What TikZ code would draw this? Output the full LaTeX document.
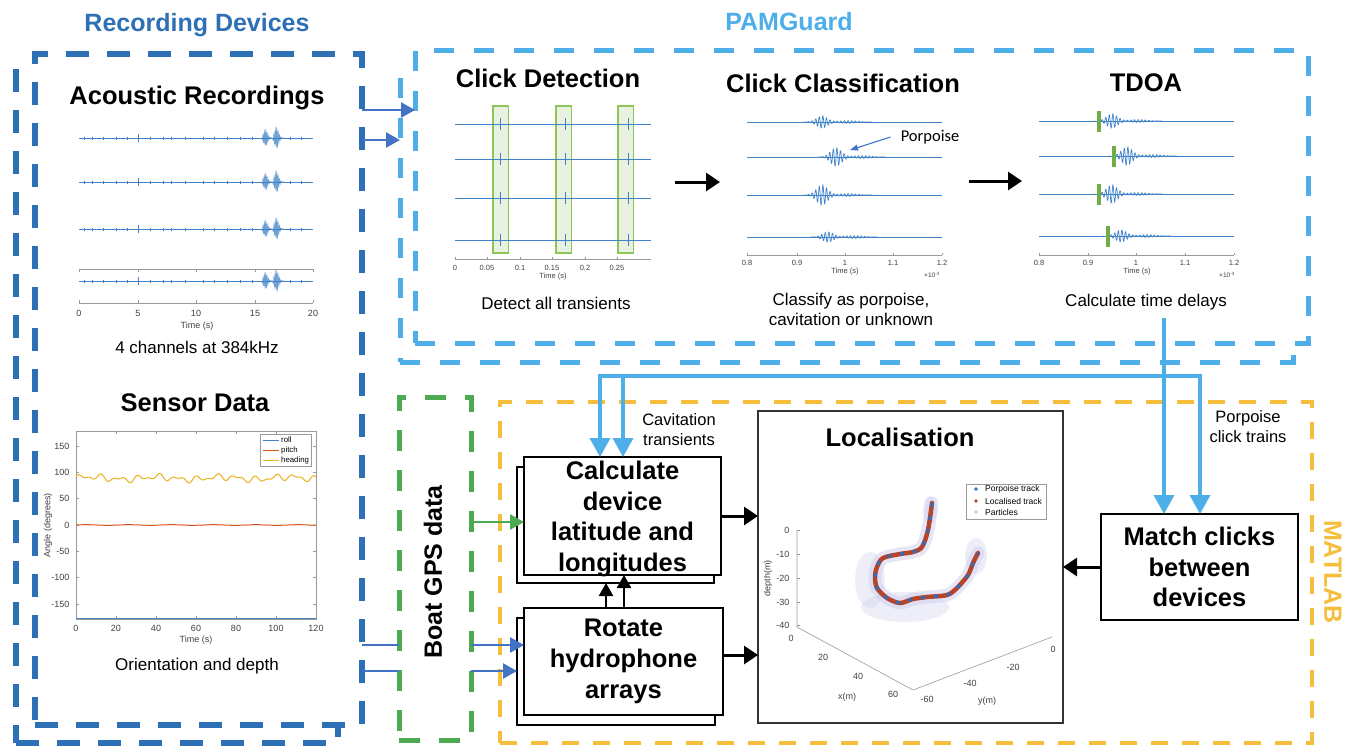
\documentclass[tikz,border=0pt]{standalone}
\usepackage{fontspec}
\setmainfont{Liberation Sans}
\newfontfamily\calibrifont{Carlito}
\usetikzlibrary{arrows.meta, positioning}

\definecolor{recblue}{HTML}{2E70B6}
\definecolor{pamblue}{HTML}{4DAEE8}
\definecolor{linkblue}{HTML}{4472C4}
\definecolor{gpsgreen}{HTML}{4EAA52}
\definecolor{labyellow}{HTML}{F6BE3C}
\definecolor{mblue}{HTML}{3F82C8}
\definecolor{morange}{HTML}{D95319}
\definecolor{myellow}{HTML}{EDB120}
\definecolor{axisgray}{HTML}{9A9A9A}
\definecolor{boxgreen}{HTML}{8DC556}
\definecolor{boxfill}{HTML}{E9F2E0}
\definecolor{bargreen}{HTML}{70AD47}
\definecolor{trackred}{HTML}{B4452A}
\definecolor{trackblue}{HTML}{2F6DB9}
\definecolor{cloud}{HTML}{C9C9EE}

\newcommand{\titlefont}{\fontsize{25.5}{30.7}\selectfont\bfseries}
\newcommand{\notefont}{\fontsize{16.5}{20}\selectfont}
\newcommand{\axfont}{\fontsize{9}{10}\selectfont}
\newcommand{\smallaxfont}{\fontsize{7.5}{9}\selectfont}

% one click on a channel: centre, baseline, amplitude
\newcommand{\clickwave}[3]{%
  \draw[trace] plot[domain=#1-18:#1+50, samples=260]
    (\x, {#2 - (#3*exp(-(\x-(#1))*(\x-(#1))/60) + 1.4*exp(-(\x-(#1)-26)*(\x-(#1)-26)/150))*sin(100*(\x-(#1)))});
}
% burst on a long recording: start, baseline, amplitude
\newcommand{\recburst}[3]{%
  \draw[trace, opacity=.75] plot[domain=#1-2:#1+9, samples=90]
    (\x, {#2 - #3*exp(-(\x-(#1)-1.5)*(\x-(#1)-1.5)/9)*sin(260*(\x-(#1)))});
}

\begin{document}
\begin{tikzpicture}[x=1pt, y=-1pt, >={Triangle[length=14pt, width=18pt]},
  frame/.style={inner sep=0pt, outer sep=0pt, fill=white},
  recdash/.style={draw=recblue, line width=6pt, dash pattern=on 23pt off 18pt},
  pamdash/.style={draw=pamblue, line width=5pt, dash pattern=on 20pt off 20pt},
  gpsdash/.style={draw=gpsgreen, line width=5pt, dash pattern=on 21pt off 19pt},
  labdash/.style={draw=labyellow, line width=4.5pt, dash pattern=on 17pt off 14pt},
  heading/.style={font=\titlefont, inner sep=0pt},
  note/.style={font=\notefont, align=center, inner sep=0pt},
  group/.style={font=\fontsize{25}{30}\selectfont\bfseries, inner sep=0pt},
  process/.style={draw, line width=1.6pt, fill=white, align=center, font=\titlefont, inner sep=0pt, outer sep=0pt},
  trace/.style={mblue, line width=0.7pt},
  axline/.style={axisgray, line width=0.6pt},
  flow/.style={->, line width=3pt},
  feed/.style={-{Triangle[length=14pt, width=15pt]}, linkblue, line width=2.5pt},
  pamflow/.style={-{Triangle[length=19pt, width=20pt]}, pamblue, line width=3.5pt, line cap=rect},
]
  \fill[white] (0,0) rectangle (1349,745);
  \useasboundingbox (0,0) rectangle (1349,745);

  % group frames
  \node[recdash, frame, minimum width=322pt, minimum height=671pt] (recback) at (177,407.5) {};
  \node[recdash, frame, minimum width=327pt, minimum height=671pt] (rec) at (198.5,389.5) {};
  \node[pamdash, frame, minimum width=893pt, minimum height=289pt] (pamback) at (846.5,217.5) {};
  \node[pamdash, frame, minimum width=893pt, minimum height=293pt] (pam) at (861.5,196.5) {};
  \node[gpsdash, frame, minimum width=72pt, minimum height=343pt] (gps) at (435,568.5) {};
  \node[labdash, frame, fill=none, minimum width=812pt, minimum height=341pt] (lab) at (906,572.5) {};

  \node[group, text=recblue] (reclabel) at (197,25) {Recording Devices};
  \node[group, text=pamblue] (pamlabel) at (789,22) {PAMGuard};
  \node[group, text=labyellow, rotate=-90] (lablabel) at (1333,572) {MATLAB};
  \node[group, rotate=90] (gpslabel) at (433,572) {Boat GPS data};

  % acoustic recordings
  \node[heading] (acoustitle) at (197,98) {Acoustic Recordings};
  \foreach \yy in {138,182,229,281} {
    \draw[trace] (79,\yy) -- (313,\yy);
    \foreach \xx in {84,92,103,116,127,150,163,171,185,203,214,227,240,252,290,301}
      \draw[trace, line width=0.5pt] (\xx,\yy-1.5) -- (\xx,\yy+1.5);
    \draw[trace, line width=0.5pt] (138,\yy-4) -- (138,\yy+4);
    \recburst{264}{\yy}{7}
    \recburst{275}{\yy}{9}
  }
  \draw[axline] (79,269) -- (313,269);
  \draw[axline] (79,303) -- (313,303);
  \foreach \xx/\lab in {79/0,138/5,196/10,255/15,313/20} {
    \draw[axline] (\xx,269) -- (\xx,271.5);
    \draw[axline] (\xx,303) -- (\xx,300);
    \node[font=\axfont, text=black!75] (acx\lab) at (\xx,313) {\lab};
  }
  \node[font=\axfont, text=black!75] (acxlabel) at (197,326) {Time (s)};
  \node[note, font=\fontsize{17}{20}\selectfont] (acouscap) at (197,347) {4 channels at 384kHz};

  % sensor data
  \node[heading] (senstitle) at (195,403) {Sensor Data};
  \draw[axline] (76,431) rectangle (316,619);
  \foreach \v in {-150,-100,...,150} {
    \draw[axline] (76,{525-0.526*(\v)}) -- (79,{525-0.526*(\v)});
    \draw[axline] (316,{525-0.526*(\v)}) -- (313,{525-0.526*(\v)});
    \node[font=\axfont, text=black!75, anchor=east] (sy\v) at (73,{525-0.526*(\v)}) {\v};
  }
  \foreach \t in {0,20,...,120} {
    \draw[axline] ({76+2*\t},619) -- ({76+2*\t},616);
    \draw[axline] ({76+2*\t},431) -- ({76+2*\t},434);
    \node[font=\axfont, text=black!75] (sx\t) at ({76+2*\t},628) {\t};
  }
  \node[font=\axfont, text=black!75] (sxlabel) at (196,640) {Time (s)};
  \node[font=\axfont, text=black!75, rotate=90] (sylabel) at (48,525) {Angle (degrees)};
  \draw[myellow, line width=1pt] plot[domain=0:120, samples=241]
    ({76+2*\x}, {525-0.526*(89+4*sin(\x*37)+3*sin(\x*61+40)+2.5*sin(\x*11+10))});
  \draw[morange, line width=1pt] plot[domain=0:120, samples=121]
    ({76+2*\x}, {525-0.526*(0.6*sin(\x*17))});
  \draw[mblue, line width=1pt] (76,618.5) -- (316,618.5);
  \node[draw=axisgray, fill=white, line width=0.6pt, minimum width=51pt, minimum height=32pt, inner sep=0pt] (senslegend) at (285.5,450) {};
  \foreach \yy/\col/\lab in {440/mblue/roll, 450/morange/pitch, 460/myellow/heading} {
    \draw[\col, line width=1pt] (263,\yy) -- (279,\yy);
    \node[font=\fontsize{7.8}{9}\selectfont, anchor=west, inner sep=0pt] (leg\lab) at (281,\yy) {\lab};
  }
  \node[note, font=\fontsize{17}{20}\selectfont] (senscap) at (197,666) {Orientation and depth};

  % click detection
  \node[heading] (dettitle) at (548,78) {Click Detection};
  \foreach \bx in {493,556,618}
    \draw[draw=boxgreen, fill=boxfill, line width=1.8pt] (\bx,106) rectangle +(15.5,147);
  \foreach \yy in {124,159,198,240} {
    \draw[trace] (455,\yy) -- (651,\yy);
    \foreach \xx in {500,565,628}
      \draw[trace] (\xx,\yy-6) -- (\xx,\yy+6);
  }
  \draw[axline] (455,259) -- (651,259);
  \foreach \xx/\lab in {455/0,487/0.05,520/0.1,552/0.15,585/0.2,617/0.25} {
    \draw[axline] (\xx,259) -- (\xx,256.5);
    \node[font=\smallaxfont, text=black!75] (dx\lab) at (\xx,268) {\lab};
  }
  \node[font=\smallaxfont, text=black!75] (dxlabel) at (553,277) {Time (s)};
  \node[note, font=\fontsize{17}{20}\selectfont] (detcap) at (556,303) {Detect all transients};

  % click classification
  \node[heading] (clstitle) at (843,83) {Click Classification};
  \foreach \yy/\c/\a in {122/822/6, 157/836/9, 195/822/10, 237/828/5} {
    \draw[trace] (747,\yy) -- (942,\yy);
    \clickwave{\c}{\yy}{\a}
  }
  \draw[axline] (747,255) -- (942,255);
  \foreach \xx/\lab in {747/0.8,797/0.9,845/1,893/1.1,942/1.2} {
    \draw[axline] (\xx,255) -- (\xx,252.5);
    \node[font=\smallaxfont, text=black!75] (cx\lab) at (\xx,263) {\lab};
  }
  \node[font=\smallaxfont, text=black!75] (cxlabel) at (845,272) {Time (s)};
  \node[font=\fontsize{6.5}{8}\selectfont, text=black!75] (cxscale) at (932,275) {×10\textsuperscript{-3}};
  \node[font=\calibrifont\fontsize{16.5}{20}\selectfont, inner sep=0pt] (porplabel) at (930,137) {Porpoise};
  \draw[-{Triangle[length=8pt, width=6pt]}, linkblue, line width=1.1pt] ([xshift=-10pt]porplabel.west) -- (850,150);
  \node[note, font=\fontsize{17}{20}\selectfont] (clscap) at (851,309) {Classify as porpoise,\\cavitation or unknown};

  % TDOA
  \node[heading] (tdoatitle) at (1146,83) {TDOA};
  \foreach \yy/\b/\a in {121/1099/7, 156/1114/9, 194/1099/9, 236/1108/6} {
    \draw[trace] (1039,\yy) -- (1234,\yy);
    \clickwave{\b+13}{\yy}{\a}
    \draw[white, line width=4pt] (\b-2,\yy-11) -- (\b-2,\yy+11);
    \draw[trace] (\b-5,\yy) -- (\b+1,\yy);
    \draw[bargreen, line width=3.5pt] (\b,\yy-10.5) -- (\b,\yy+10.5);
  }
  \draw[axline] (1039,255) -- (1234,255);
  \foreach \xx/\lab in {1039/0.8,1088/0.9,1136/1,1185/1.1,1234/1.2} {
    \draw[axline] (\xx,255) -- (\xx,252.5);
    \node[font=\smallaxfont, text=black!75] (tx\lab) at (\xx,263) {\lab};
  }
  \node[font=\smallaxfont, text=black!75] (txlabel) at (1137,272) {Time (s)};
  \node[font=\fontsize{6.5}{8}\selectfont, text=black!75] (txscale) at (1227,275) {×10\textsuperscript{-3}};
  \node[note, font=\fontsize{17}{20}\selectfont] (tdoacap) at (1146,302) {Calculate time delays};

  % MATLAB steps
  \node[process, minimum width=197pt, minimum height=116pt] (calcback) at (615.5,525) {};
  \node[process, minimum width=197pt, minimum height=118pt] (calc) at (622.5,516) {};
  \node[font=\titlefont, align=center, inner sep=0pt] (calctext) at (622.5,519) {Calculate\\device\\latitude and\\longitudes};
  \node[process, minimum width=198pt, minimum height=107pt] (rotback) at (616,671.5) {};
  \node[process, minimum width=199pt, minimum height=107pt] (rot) at (623.5,661.5) {Rotate\\hydrophone\\arrays};
  \node[process, minimum width=197pt, minimum height=106pt] (match) at (1199.5,567) {Match clicks\\between\\devices};
  \node[draw=black!80, fill=white, line width=1.3pt, minimum width=305pt, minimum height=312pt, inner sep=0pt, outer sep=0pt] (loc) at (910.5,567) {};
  \node[heading] (loctitle) at (900,437) {Localisation};

  % localisation plot
  \fill[cloud, opacity=.3] (905,607) ellipse (44pt and 15pt);
  \fill[cloud, opacity=.3] (870,580) ellipse (15pt and 28pt);
  \fill[cloud, opacity=.3] (976,556) ellipse (11pt and 18pt);
  \fill[cloud, opacity=.3] (930,510) ellipse (7pt and 14pt);
  \draw[cloud, line width=13pt, line cap=round, line join=round, opacity=.45] plot[smooth] coordinates {(932,503) (928,530) (922,547) (913,552) (900,554) (883,558) (877,567) (875,577) (877,588) (887,598) (900,603) (913,599) (927,597) (947,595) (957,588) (968,575) (973,563) (978,553)};
  \draw[trackred, line width=4.5pt, line cap=round] plot[smooth] coordinates {(932,503) (928,530) (922,547) (913,552) (900,554) (883,558) (877,567) (875,577) (877,588) (887,598) (900,603) (913,599) (927,597) (947,595) (957,588) (968,575) (973,563) (978,553)};
  \draw[trackblue, line width=3pt, dash pattern=on 4pt off 9pt] plot[smooth] coordinates {(932,503) (928,530) (922,547) (913,552) (900,554) (883,558) (877,567) (875,577) (877,588) (887,598) (900,603) (913,599) (927,597) (947,595) (957,588) (968,575) (973,563) (978,553)};
  \draw[axline] (797,530) -- (797,627) -- (913,690) -- (1052,637);
  \foreach \d/\yy in {0/530,-10/554,-20/578,-30/602,-40/625} {
    \draw[axline] (797,\yy) -- (800,\yy);
    \node[font=\axfont, text=black!75, anchor=east] (dz\d) at (793,\yy) {\d};
  }
  \foreach \lab/\xx/\yy in {0/791/638,20/823/657,40/858/676,60/893/694}
    \node[font=\axfont, text=black!75] (dxx\lab) at (\xx,\yy) {\lab};
  \foreach \lab/\xx/\yy in {-60/927/699,-40/970/683,-20/1013/667,0/1053/649}
    \node[font=\axfont, text=black!75] (dyy\lab) at (\xx,\yy) {\lab};
  \node[font=\axfont, text=black!75] (locxlabel) at (847,697) {x(m)};
  \node[font=\axfont, text=black!75] (locylabel) at (987,701) {y(m)};
  \node[font=\axfont, text=black!75, rotate=90] (loczlabel) at (768,578) {depth(m)};
  \node[draw=axisgray, fill=white, line width=0.6pt, minimum width=80pt, minimum height=35pt, inner sep=0pt] (loclegend) at (1006,501.5) {};
  \foreach \yy/\col/\lab in {489/trackblue/Porpoise track, 501/trackred/Localised track, 512/cloud/Particles} {
    \fill[\col] (976,\yy) circle (1.8pt);
    \node[font=\fontsize{8.5}{10}\selectfont, anchor=west, inner sep=0pt] (loc\col) at (985,\yy) {\lab};
  }

  % connectors
  \coordinate (acou1) at (362,110);
  \coordinate (acou2) at (362,140);
  \draw[feed] (acou1) -- (acou1 -| pam.west);
  \draw[feed] (acou2) -- (acou2 -| pamback.west);

  \coordinate (sens1) at (362,645);
  \coordinate (sens2) at (362,671);
  \draw[linkblue, line width=2.5pt] (sens1) -- (sens1 -| gps.west);
  \draw[linkblue, line width=2.5pt] (sens2) -- (sens2 -| gps.west);
  \draw[feed] (sens1 -| gps.east) -- (sens1 -| rot.west);
  \draw[feed] (sens2 -| gps.east) -- (sens2 -| rotback.west);

  \coordinate (gpsout) at (471,522);
  \draw[-{Triangle[length=14pt, width=15pt]}, gpsgreen, line width=2.5pt] (gpsout) -- (gpsout -| calc.west);

  \coordinate (detout) at (675,182);
  \coordinate (clsin) at (720,182);
  \coordinate (clsout) at (969,181);
  \coordinate (tdoain) at (1022,181);
  \draw[flow] (detout) -- (clsin);
  \draw[flow] (clsout) -- (tdoain);

  \draw[flow] (calc.east) -- (calc.east -| loc.west);
  \coordinate (rotout) at (723,655);
  \draw[flow] (rotout) -- (rotout -| loc.west);
  \draw[flow] (match.west) -- (loc.east);
  \coordinate (up1) at (606,608);
  \coordinate (up2) at (624,608);
  \draw[-{Triangle[length=13pt, width=14pt]}, line width=2.5pt] (up1) -- (up1 |- calcback.south);
  \draw[-{Triangle[length=13pt, width=14pt]}, line width=2.5pt] (up2) -- (up2 |- calc.south);

  \coordinate (tdoaout) at (1164,320);
  \coordinate (busL) at (600,376);
  \coordinate (busM) at (623,376);
  \coordinate (busR) at (1200,376);
  \draw[pamflow] (tdoaout) -- (tdoaout |- match.north);
  \draw[pamflow] (busR) -- (busL) -- (busL |- calc.north);
  \draw[pamflow] (busM) -- (busM |- calc.north);
  \draw[pamflow] (busR) -- (busR |- match.north);

  \node[note] (cavnote) at (679,430) {Cavitation\\transients};
  \node[note] (porpnote) at (1248,427) {Porpoise\\click trains};
\end{tikzpicture}
\end{document}
